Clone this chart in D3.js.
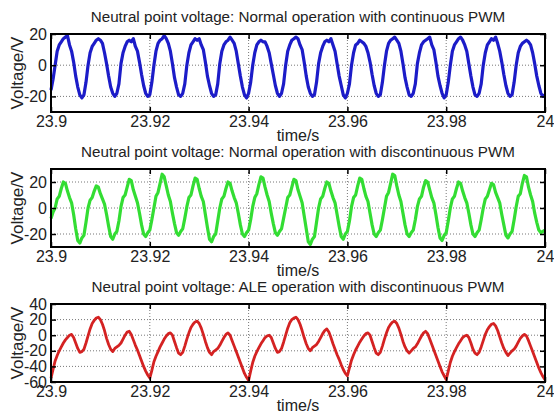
<!DOCTYPE html>
<html>
<head>
<meta charset="utf-8">
<script src="https://cdn.jsdelivr.net/npm/d3@7"></script>
<style>
  html, body { margin: 0; padding: 0; background: #fff; }
  svg { display: block; font-family: "Liberation Sans", Arial, sans-serif; }
</style>
</head>
<body>
<svg width="554" height="417"></svg>
<script>
// time axis
const tStart = 23.9;
const tEnd = 24;
const xTicks = [23.9, 23.92, 23.94, 23.96, 23.98, 24];
const xTickLabels = ["23.9", "23.92", "23.94", "23.96", "23.98", "24"];

const titles = [
  "Neutral point voltage: Normal operation with continuous PWM",
  "Neutral point voltage: Normal operation with discontinuous PWM",
  "Neutral point voltage: ALE operation with discontinuous PWM"
];

const yDomains = [[-30, 20], [-30, 30], [-60, 40]];
const yTicks = [[-20, 0, 20], [-20, 0, 20], [-60, -40, -20, 0, 20, 40]];
const yTickLabels = [
  ["-20", "0", "20"],
  ["-20", "0", "20"],
  ["-60", "-40", "-20", "0", "20", "40"]
];

// samples, 241 points each, evenly spaced over 23.9..24 s
const continuousPwm = [
  -16, -9,
  0, 9, 13, 15, 17, 18, 19, 13, 9, 2, -7, -14, -19, -21, -19, -11,
  0, 8, 12, 14, 16, 17, 16, 14, 8, 1, -7, -14, -18, -20, -18, -12,
  1, 8, 12, 15, 16, 15, 17, 12, 9, 2, -6, -13, -18, -20, -19, -11,
  0, 9, 14, 16, 17, 19, 17, 14, 9, 1, -8, -14, -19, -20, -18, -12,
  0, 8, 13, 15, 17, 16, 17, 13, 10, 2, -7, -13, -18, -20, -19, -12,
  1, 9, 13, 15, 16, 18, 16, 14, 9, 1, -7, -14, -19, -21, -18, -11,
  0, 8, 13, 15, 16, 15, 15, 12, 8, 1, -6, -13, -18, -20, -18, -12,
  0, 9, 13, 16, 17, 18, 17, 13, 10, 2, -7, -14, -18, -20, -19, -11,
  1, 8, 12, 15, 16, 15, 17, 13, 9, 1, -7, -13, -19, -21, -18, -12,
  0, 8, 13, 14, 16, 15, 14, 12, 8, 2, -6, -13, -18, -20, -19, -11,
  0, 9, 14, 16, 17, 18, 16, 14, 9, 1, -8, -14, -19, -20, -18, -12,
  1, 8, 13, 15, 16, 17, 18, 13, 10, 2, -7, -13, -18, -21, -19, -11,
  0, 9, 13, 15, 17, 18, 16, 13, 9, 1, -7, -14, -19, -20, -18, -12,
  0, 8, 13, 15, 17, 16, 18, 14, 9, 2, -6, -13, -18, -20, -19, -11,
  0, 8, 12, 14, 15, 16, 15, 13, 8, 1, -7, -13, -18, -20, -19
];

const discontinuousPwm = [
  -8, -3,
  0, 7, 9, 15, 20, 19, 13, 8, 4, -5, -16, -25, -27, -23, -21, -11,
  0, 6, 8, 13, 17, 16, 11, 7, 3, -5, -14, -22, -24, -20, -18, -10,
  1, 8, 10, 16, 22, 21, 14, 9, 4, -4, -13, -20, -22, -19, -17, -9,
  0, 9, 12, 19, 26, 24, 17, 10, 5, -4, -12, -19, -21, -18, -16, -8,
  1, 8, 10, 17, 23, 22, 15, 9, 5, -5, -15, -24, -26, -22, -20, -10,
  0, 7, 9, 15, 20, 19, 13, 8, 4, -4, -13, -20, -22, -19, -17, -9,
  1, 8, 11, 18, 24, 23, 16, 10, 5, -4, -12, -19, -21, -18, -16, -8,
  0, 8, 10, 16, 22, 21, 14, 9, 4, -6, -16, -26, -28, -24, -22, -11,
  0, 7, 9, 15, 20, 19, 13, 8, 4, -5, -14, -22, -24, -20, -18, -10,
  1, 8, 10, 17, 23, 22, 15, 9, 5, -4, -13, -20, -22, -19, -17, -9,
  0, 9, 12, 19, 26, 25, 17, 10, 5, -4, -13, -20, -22, -19, -17, -9,
  1, 7, 9, 16, 21, 20, 14, 8, 4, -5, -15, -23, -25, -21, -19, -10,
  0, 7, 9, 15, 20, 19, 13, 8, 4, -4, -13, -20, -22, -19, -17, -9,
  0, 7, 9, 14, 19, 18, 12, 8, 4, -5, -13, -21, -23, -20, -18, -9,
  1, 9, 11, 19, 25, 24, 16, 10, 5, -4, -11, -17, -19, -18, -17
];

const aleDiscontinuous = [
  -55, -44, -33, -26, -20, -15, -10, -6, -3, 0, 1, -3, -10, -17, -22, -21,
  -18, -10, -1, 8, 15, 19, 22, 23, 20, 14, 6, -4, -12, -18, -21, -17,
  -15, -13, -10, -5, 0, 4, 5, 1, -6, -13, -19, -26, -33, -40, -46, -51,
  -55, -45, -34, -27, -21, -15, -10, -5, -1, 2, 3, 0, -8, -16, -23, -25,
  -22, -14, -5, 3, 10, 14, 17, 18, 15, 9, 1, -8, -16, -22, -25, -21,
  -19, -17, -13, -8, -3, 1, 3, 0, -7, -14, -21, -28, -35, -42, -49, -54,
  -58, -46, -35, -27, -21, -16, -11, -7, -3, -1, 0, -3, -10, -17, -22, -21,
  -17, -9, 0, 9, 16, 20, 22, 23, 20, 14, 6, -3, -11, -17, -20, -16,
  -14, -12, -8, -3, 2, 6, 8, 4, -3, -11, -18, -25, -31, -38, -44, -49,
  -52, -42, -32, -25, -19, -14, -9, -5, -1, 2, 3, 0, -8, -16, -23, -25,
  -22, -14, -5, 3, 10, 14, 17, 18, 15, 9, 1, -8, -15, -20, -23, -20,
  -17, -15, -11, -6, -1, 3, 5, 2, -5, -12, -19, -26, -33, -40, -47, -52,
  -57, -46, -35, -27, -21, -16, -11, -7, -3, -1, 0, -3, -10, -18, -23, -25,
  -22, -15, -7, 1, 7, 11, 14, 15, 12, 6, -2, -10, -17, -22, -26, -23,
  -20, -18, -14, -9, -4, -1, 1, -1, -7, -14, -21, -28, -35, -42, -48, -53,
  -57
];

const series = [continuousPwm, discontinuousPwm, aleDiscontinuous];
const colors = ["#1c1cc8", "#33dd33", "#d42222"];

const margin = { left: 51, right: 9 };
const width = 554;
const panelTops = [34, 169, 304];
const panelHeight = 78;

const svg = d3.select("svg");
svg.append("rect").attr("width", 554).attr("height", 417).attr("fill", "#fff");

const xScale = d3
  .scaleLinear()
  .domain([tStart, tEnd])
  .range([margin.left, width - margin.right]);

function render(k) {
  const top = panelTops[k];
  const bottom = top + panelHeight;
  const values = series[k];
  const step = (tEnd - tStart) / (values.length - 1);
  const data = values.map((v, i) => ({ t: tStart + i * step, v: v }));

  const yScale = d3
    .scaleLinear()
    .domain(yDomains[k])
    .range([bottom, top]);

  const g = svg.append("g");

  // dotted grid
  g.selectAll(".gx")
    .data(xTicks.slice(1, -1))
    .enter()
    .append("line")
    .attr("x1", d => xScale(d))
    .attr("x2", d => xScale(d))
    .attr("y1", top)
    .attr("y2", bottom)
    .attr("stroke", "#777")
    .attr("stroke-width", 1)
    .attr("stroke-dasharray", "1,2");
  g.selectAll(".gy")
    .data(yTicks[k].filter(d => d > yDomains[k][0] && d < yDomains[k][1]))
    .enter()
    .append("line")
    .attr("x1", xScale.range()[0])
    .attr("x2", xScale.range()[1])
    .attr("y1", d => yScale(d))
    .attr("y2", d => yScale(d))
    .attr("stroke", "#777")
    .attr("stroke-width", 1)
    .attr("stroke-dasharray", "1,2");

  // trace
  const line = d3
    .line()
    .x(d => xScale(d.t))
    .y(d => yScale(d.v));
  g.append("path")
    .datum(data)
    .attr("d", line)
    .attr("fill", "none")
    .attr("stroke", colors[k])
    .attr("stroke-width", k === 2 ? 2.8 : 3.2)
    .attr("stroke-linejoin", "round");

  // axes, ticks pointing inwards like matlab
  const xAxis = d3
    .axisBottom(xScale)
    .tickValues(xTicks)
    .tickFormat((d, i) => xTickLabels[i])
    .tickSizeInner(-5)
    .tickSizeOuter(0)
    .tickPadding(4);
  const xAxisTop = d3
    .axisTop(xScale)
    .tickValues(xTicks)
    .tickFormat("")
    .tickSizeInner(-5)
    .tickSizeOuter(0);
  const yAxis = d3
    .axisLeft(yScale)
    .tickValues(yTicks[k])
    .tickFormat((d, i) => yTickLabels[k][i])
    .tickSizeInner(-5)
    .tickSizeOuter(0)
    .tickPadding(4);
  const yAxisRight = d3
    .axisRight(yScale)
    .tickValues(yTicks[k])
    .tickFormat("")
    .tickSizeInner(-5)
    .tickSizeOuter(0);

  const axes = [
    g.append("g").attr("transform", `translate(0, ${bottom})`).call(xAxis),
    g.append("g").attr("transform", `translate(0, ${top})`).call(xAxisTop),
    g.append("g").attr("transform", `translate(${margin.left}, 0)`).call(yAxis),
    g.append("g").attr("transform", `translate(${width - margin.right}, 0)`).call(yAxisRight)
  ];
  axes.forEach(a => {
    a.select(".domain").remove();
    a.selectAll("line").attr("stroke", "#000").attr("stroke-width", 1.5);
    a.selectAll("text")
      .attr("fill", "#222")
      .style("font-size", "16px")
      .style("font-family", "'Liberation Sans', Arial, sans-serif");
  });

  // box
  g.append("rect")
    .attr("x", xScale.range()[0])
    .attr("y", top)
    .attr("width", xScale.range()[1] - xScale.range()[0])
    .attr("height", panelHeight)
    .attr("fill", "none")
    .attr("stroke", "#000")
    .attr("stroke-width", 2);

  // labels
  g.append("text")
    .attr("x", (xScale.range()[0] + xScale.range()[1]) / 2)
    .attr("y", top - 12)
    .attr("text-anchor", "middle")
    .attr("fill", "#222")
    .style("font-size", "15.2px")
    .text(titles[k]);
  g.append("text")
    .attr("x", (xScale.range()[0] + xScale.range()[1]) / 2)
    .attr("y", bottom + 29)
    .attr("text-anchor", "middle")
    .attr("fill", "#222")
    .style("font-size", "16px")
    .text("time/s");
  g.append("text")
    .attr("transform", `translate(23, ${(top + bottom) / 2}) rotate(-90)`)
    .attr("text-anchor", "middle")
    .attr("fill", "#222")
    .style("font-size", "17px")
    .text("Voltage/V");
}

[0, 1, 2].forEach(render);
</script>
</body>
</html>
